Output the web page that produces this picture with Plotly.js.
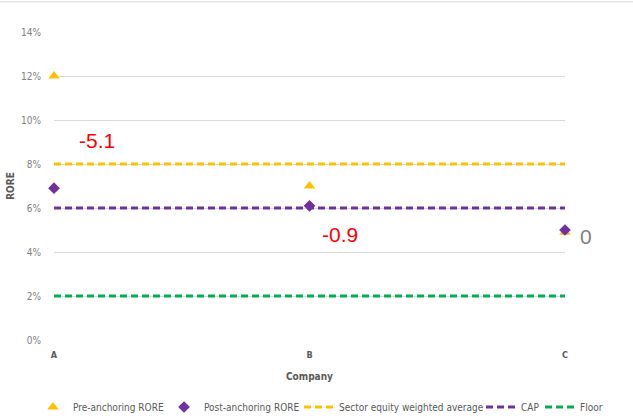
<!DOCTYPE html>
<html>
<head>
<meta charset="utf-8">
<script src="https://cdn.plot.ly/plotly-3.0.1.min.js"></script>
<style>
  html, body { margin: 0; padding: 0; background: #fff; }
  #chart { width: 633px; height: 419px; }
</style>
</head>
<body>
<div id="chart"></div>
<script>
// Companies and RORE values (%)
const companies = ['A', 'B', 'C'];
const preAnchoring = [12.0, 7.0, 4.9];
const postAnchoring = [6.9, 6.1, 5.0];
const sectorAverage = [8, 8, 8];
const cap = [6, 6, 6];
const floor = [2, 2, 2];

// Change labels shown next to each company
const changeLabels = ['-5.1', '-0.9', '0'];
const changeLabelY = [9.05, 4.8, 4.7];
const changeLabelShift = [43, 30, 21];
const changeLabelColors = ['#ff0000', '#ff0000', '#7f7f7f'];

const yTicks = [0, 2, 4, 6, 8, 10, 12, 14];

const FONT = '"Liberation Sans Narrow", "DejaVu Sans Condensed", Arial, sans-serif';
const YELLOW = '#ffc000';
const PURPLE = '#7030a0';
const GREEN = '#00b050';

const lineStyle = (color) => ({ color: color, width: 3, dash: '7px,4px' });

const traces = [
  {
    x: companies, y: sectorAverage, type: 'scatter', mode: 'lines',
    name: 'Sector equity weighted average', line: lineStyle(YELLOW), legend: 'legend3'
  },
  {
    x: companies, y: cap, type: 'scatter', mode: 'lines',
    name: 'CAP', line: lineStyle(PURPLE), legend: 'legend4'
  },
  {
    x: companies, y: floor, type: 'scatter', mode: 'lines',
    name: 'Floor', line: lineStyle(GREEN), legend: 'legend5'
  },
  {
    x: companies, y: preAnchoring, type: 'scatter', mode: 'markers',
    name: 'Pre-anchoring RORE', cliponaxis: false,
    marker: { symbol: 'triangle-up', size: 10, color: YELLOW }, legend: 'legend'
  },
  {
    x: companies, y: postAnchoring, type: 'scatter', mode: 'markers',
    name: 'Post-anchoring RORE', cliponaxis: false,
    marker: { symbol: 'diamond', size: 9, color: PURPLE }, legend: 'legend2'
  }
];

const annotations = changeLabels.map((t, i) => ({
  x: i, y: changeLabelY[i], xref: 'x', yref: 'y',
  xshift: changeLabelShift[i],
  text: t, showarrow: false,
  font: { family: 'Liberation Sans, Arial, sans-serif', size: 21, color: changeLabelColors[i] },
  xanchor: 'center', yanchor: 'middle'
}));

// One legend box per entry so the row is spaced like the original chart key
const legendBox = (x) => ({
  orientation: 'h', x: x, xanchor: 'left',
  yref: 'container', y: 0.0286, yanchor: 'middle',
  font: { family: FONT, size: 10, color: '#595959' },
  itemwidth: 30, bgcolor: 'rgba(0,0,0,0)'
});

const layout = {
  width: 633, height: 419,
  margin: { l: 54, r: 68, t: 32, b: 79 },
  paper_bgcolor: '#ffffff', plot_bgcolor: '#ffffff',
  font: { family: FONT, color: '#595959', size: 9 },
  showlegend: true,
  legend: legendBox(-0.0411),
  legend2: legendBox(0.2153),
  legend3: legendBox(0.4795),
  legend4: legendBox(0.8356),
  legend5: legendBox(0.9511),
  xaxis: {
    type: 'category', range: [0, 2],
    tickvals: companies, ticktext: companies.map(c => '<b>' + c + '</b>'),
    showgrid: false, zeroline: false, showline: false,
    ticks: 'outside', ticklen: 6, tickcolor: 'rgba(0,0,0,0)',
    tickfont: { family: FONT, size: 9, color: '#595959' },
    title: { text: '<b>Company</b>', font: { family: FONT, size: 10, color: '#595959' }, standoff: 14 },
    fixedrange: true
  },
  yaxis: {
    range: [0, 14], tickvals: yTicks, ticktext: yTicks.map(v => v + '%'),
    showgrid: true, gridcolor: '#d9d9d9', gridwidth: 1,
    zeroline: false, showline: false,
    ticks: 'outside', ticklen: 10, tickcolor: 'rgba(0,0,0,0)',
    tickfont: { family: FONT, size: 10, color: '#808080' },
    title: { text: '<b>RORE</b>', font: { family: FONT, size: 10, color: '#595959' }, standoff: 4 },
    fixedrange: true
  },
  annotations: annotations,
  shapes: [
    { type: 'line', xref: 'paper', yref: 'paper', x0: -0.2, x1: 1.2, y0: 1.098, y1: 1.098,
      line: { color: '#d9d9d9', width: 1 } }
  ]
};

Plotly.newPlot('chart', traces, layout, { displayModeBar: false, staticPlot: true });
</script>
</body>
</html>
